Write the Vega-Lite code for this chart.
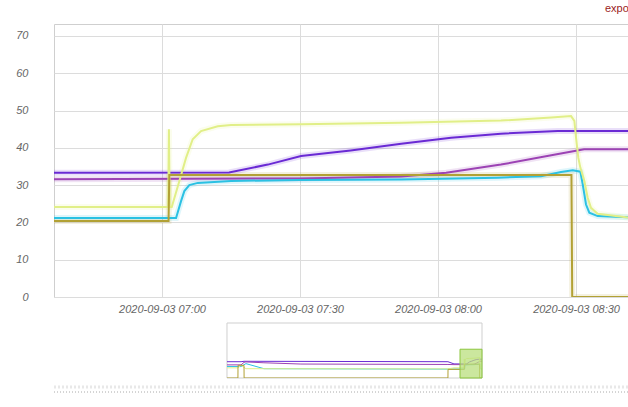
{
  "$schema": "https://vega.github.io/schema/vega-lite/v6.json",
  "background": "white",
  "padding": {"left": 0, "top": 2, "right": 5, "bottom": 0},
  "title": {"text": "export", "anchor": "end", "dx": -6, "color": "#9b1c1c", "font": "Liberation Sans", "fontSize": 11, "fontWeight": "normal", "offset": 10},
  "spacing": 3,
  "datasets": {
    "series": [
      {"series": "s1", "time": "2020-09-02T08:14:00Z", "value": 38.5},
      {"series": "s1", "time": "2020-09-02T09:35:00Z", "value": 38.5},
      {"series": "s1", "time": "2020-09-02T09:52:00Z", "value": 39.5},
      {"series": "s1", "time": "2020-09-03T05:27:00Z", "value": 38.5},
      {"series": "s1", "time": "2020-09-03T06:02:00Z", "value": 33.3},
      {"series": "s1", "time": "2020-09-03T06:36:00Z", "value": 33.3},
      {"series": "s1", "time": "2020-09-03T07:14:34Z", "value": 33.4},
      {"series": "s1", "time": "2020-09-03T07:23:00Z", "value": 35.5},
      {"series": "s1", "time": "2020-09-03T07:30:13Z", "value": 37.8},
      {"series": "s1", "time": "2020-09-03T07:41:00Z", "value": 39.3},
      {"series": "s1", "time": "2020-09-03T07:52:00Z", "value": 41.1},
      {"series": "s1", "time": "2020-09-03T08:02:50Z", "value": 42.7},
      {"series": "s1", "time": "2020-09-03T08:13:40Z", "value": 43.8},
      {"series": "s1", "time": "2020-09-03T08:26:00Z", "value": 44.5},
      {"series": "s1", "time": "2020-09-03T08:45:00Z", "value": 44.5},
      {"series": "s2", "time": "2020-09-02T08:14:00Z", "value": 31},
      {"series": "s2", "time": "2020-09-02T09:35:00Z", "value": 31},
      {"series": "s2", "time": "2020-09-02T09:52:00Z", "value": 37},
      {"series": "s2", "time": "2020-09-02T10:03:00Z", "value": 38},
      {"series": "s2", "time": "2020-09-02T11:47:00Z", "value": 36},
      {"series": "s2", "time": "2020-09-02T15:20:00Z", "value": 33},
      {"series": "s2", "time": "2020-09-03T05:27:00Z", "value": 32},
      {"series": "s2", "time": "2020-09-03T06:02:00Z", "value": 31.6},
      {"series": "s2", "time": "2020-09-03T06:36:00Z", "value": 31.6},
      {"series": "s2", "time": "2020-09-03T07:30:00Z", "value": 31.8},
      {"series": "s2", "time": "2020-09-03T07:52:00Z", "value": 32.3},
      {"series": "s2", "time": "2020-09-03T08:01:45Z", "value": 33.3},
      {"series": "s2", "time": "2020-09-03T08:13:40Z", "value": 35.5},
      {"series": "s2", "time": "2020-09-03T08:24:37Z", "value": 38.0},
      {"series": "s2", "time": "2020-09-03T08:31:45Z", "value": 39.6},
      {"series": "s2", "time": "2020-09-03T08:45:00Z", "value": 39.6},
      {"series": "s3", "time": "2020-09-02T08:14:00Z", "value": 27},
      {"series": "s3", "time": "2020-09-02T09:35:00Z", "value": 27},
      {"series": "s3", "time": "2020-09-02T10:03:00Z", "value": 34},
      {"series": "s3", "time": "2020-09-02T11:47:00Z", "value": 22},
      {"series": "s3", "time": "2020-09-03T05:27:00Z", "value": 21},
      {"series": "s3", "time": "2020-09-03T06:02:00Z", "value": 21.2},
      {"series": "s3", "time": "2020-09-03T06:36:00Z", "value": 21.2},
      {"series": "s3", "time": "2020-09-03T07:03:03Z", "value": 21.2},
      {"series": "s3", "time": "2020-09-03T07:04:08Z", "value": 25.7},
      {"series": "s3", "time": "2020-09-03T07:04:51Z", "value": 28.4},
      {"series": "s3", "time": "2020-09-03T07:05:56Z", "value": 30.0},
      {"series": "s3", "time": "2020-09-03T07:07:46Z", "value": 30.6},
      {"series": "s3", "time": "2020-09-03T07:15:00Z", "value": 31.1},
      {"series": "s3", "time": "2020-09-03T07:30:00Z", "value": 31.4},
      {"series": "s3", "time": "2020-09-03T07:52:00Z", "value": 31.5},
      {"series": "s3", "time": "2020-09-03T08:13:00Z", "value": 32.0},
      {"series": "s3", "time": "2020-09-03T08:22:23Z", "value": 32.4},
      {"series": "s3", "time": "2020-09-03T08:26:44Z", "value": 33.5},
      {"series": "s3", "time": "2020-09-03T08:29:17Z", "value": 34.0},
      {"series": "s3", "time": "2020-09-03T08:30:56Z", "value": 33.6},
      {"series": "s3", "time": "2020-09-03T08:31:27Z", "value": 30.2},
      {"series": "s3", "time": "2020-09-03T08:32:10Z", "value": 24.8},
      {"series": "s3", "time": "2020-09-03T08:32:53Z", "value": 22.6},
      {"series": "s3", "time": "2020-09-03T08:34:42Z", "value": 21.7},
      {"series": "s3", "time": "2020-09-03T08:45:00Z", "value": 21.2},
      {"series": "s4", "time": "2020-09-02T08:14:00Z", "value": 24},
      {"series": "s4", "time": "2020-09-02T09:17:00Z", "value": 24},
      {"series": "s4", "time": "2020-09-02T09:35:00Z", "value": 30},
      {"series": "s4", "time": "2020-09-02T10:03:00Z", "value": 22},
      {"series": "s4", "time": "2020-09-03T05:27:00Z", "value": 21.5},
      {"series": "s4", "time": "2020-09-03T06:02:00Z", "value": 24.1},
      {"series": "s4", "time": "2020-09-03T06:36:00Z", "value": 24.1},
      {"series": "s4", "time": "2020-09-03T07:01:20Z", "value": 24.1},
      {"series": "s4", "time": "2020-09-03T07:01:30Z", "value": 45},
      {"series": "s4", "time": "2020-09-03T07:01:40Z", "value": 24.1},
      {"series": "s4", "time": "2020-09-03T07:02:07Z", "value": 24.1},
      {"series": "s4", "time": "2020-09-03T07:03:46Z", "value": 31.1},
      {"series": "s4", "time": "2020-09-03T07:05:13Z", "value": 37.3},
      {"series": "s4", "time": "2020-09-03T07:06:40Z", "value": 42.3},
      {"series": "s4", "time": "2020-09-03T07:08:29Z", "value": 44.5},
      {"series": "s4", "time": "2020-09-03T07:12:07Z", "value": 45.8},
      {"series": "s4", "time": "2020-09-03T07:15:00Z", "value": 46.1},
      {"series": "s4", "time": "2020-09-03T07:30:13Z", "value": 46.3},
      {"series": "s4", "time": "2020-09-03T07:52:00Z", "value": 46.7},
      {"series": "s4", "time": "2020-09-03T08:13:40Z", "value": 47.3},
      {"series": "s4", "time": "2020-09-03T08:24:37Z", "value": 48.1},
      {"series": "s4", "time": "2020-09-03T08:28:55Z", "value": 48.5},
      {"series": "s4", "time": "2020-09-03T08:29:38Z", "value": 47.2},
      {"series": "s4", "time": "2020-09-03T08:30:00Z", "value": 42.7},
      {"series": "s4", "time": "2020-09-03T08:30:30Z", "value": 37.3},
      {"series": "s4", "time": "2020-09-03T08:30:56Z", "value": 34.7},
      {"series": "s4", "time": "2020-09-03T08:31:48Z", "value": 31.1},
      {"series": "s4", "time": "2020-09-03T08:32:32Z", "value": 26.6},
      {"series": "s4", "time": "2020-09-03T08:33:15Z", "value": 23.9},
      {"series": "s4", "time": "2020-09-03T08:34:42Z", "value": 22.3},
      {"series": "s4", "time": "2020-09-03T08:41:30Z", "value": 21.3},
      {"series": "s4", "time": "2020-09-03T08:45:00Z", "value": 21.2},
      {"series": "s5", "time": "2020-09-02T08:14:00Z", "value": 0},
      {"series": "s5", "time": "2020-09-02T09:17:00Z", "value": 0},
      {"series": "s5", "time": "2020-09-02T09:17:30Z", "value": 30},
      {"series": "s5", "time": "2020-09-02T09:52:00Z", "value": 30},
      {"series": "s5", "time": "2020-09-02T09:52:30Z", "value": 0},
      {"series": "s5", "time": "2020-09-03T05:27:00Z", "value": 0},
      {"series": "s5", "time": "2020-09-03T05:27:30Z", "value": 20.4},
      {"series": "s5", "time": "2020-09-03T06:36:00Z", "value": 20.4},
      {"series": "s5", "time": "2020-09-03T07:01:25Z", "value": 20.4},
      {"series": "s5", "time": "2020-09-03T07:01:35Z", "value": 32.7},
      {"series": "s5", "time": "2020-09-03T08:29:00Z", "value": 32.7},
      {"series": "s5", "time": "2020-09-03T08:29:10Z", "value": 0},
      {"series": "s5", "time": "2020-09-03T08:45:00Z", "value": 0}
    ],
    "navframe": [
      {"start": "2020-09-02T08:14:00Z", "end": "2020-09-03T08:43:15Z", "low": 0, "high": 130}
    ],
    "brush": [
      {"start": "2020-09-03T06:36:31Z", "end": "2020-09-03T08:43:15Z", "low": 0, "high": 68}
    ]
  },
  "vconcat": [
    {
      "width": 583,
      "height": 273,
      "data": {"name": "series"},
      "encoding": {
        "x": {
          "field": "time", "type": "temporal",
          "scale": {"type": "utc", "domain": [1599114991000, 1599122595000]},
          "axis": {"title": null, "labelExpr": "utcFormat(datum.value, '%Y-%m-%d %H:%M')", "values": [1599116400000, 1599118200000, 1599120000000, 1599121800000], "ticks": false, "domain": false, "labelPadding": 6, "labelFlush": false, "minExtent": 21}
        },
        "y": {
          "field": "value", "type": "quantitative",
          "scale": {"domain": [0, 73.2], "nice": false},
          "axis": {"title": null, "values": [0, 10, 20, 30, 40, 50, 60, 70], "ticks": false, "domain": false, "labelPadding": 26, "minExtent": 53}
        },
        "color": {
          "field": "series", "type": "nominal",
          "scale": {"domain": ["s1", "s2", "s3", "s4", "s5"], "range": ["#6a2ad4", "#9c43b4", "#2bc1e3", "#e1ef88", "#b2a135"]},
          "legend": null
        }
      },
      "layer": [
        {"mark": {"type": "line", "clip": true, "strokeWidth": 6, "opacity": 0.15}},
        {"mark": {"type": "line", "clip": true, "strokeWidth": 2}}
      ]
    },
    {
      "width": 428,
      "height": 55,
      "view": {"stroke": null},
      "layer": [
        {
          "data": {"name": "navframe"},
          "mark": {"type": "rect", "fill": null, "stroke": "#cfcfcf", "strokeWidth": 1},
          "encoding": {
            "x": {
              "field": "start", "type": "temporal",
              "scale": {"type": "utc", "domain": [1598974633000, 1599122595000]},
              "axis": null
            },
            "x2": {"field": "end"},
            "y": {"field": "low", "type": "quantitative", "scale": {"domain": [0, 130], "nice": false}, "axis": null},
            "y2": {"field": "high"}
          }
        },
        {
          "data": {"name": "series"},
          "mark": {"type": "line", "strokeWidth": 1, "clip": true},
          "encoding": {
            "x": {"field": "time", "type": "temporal"},
            "y": {"field": "value", "type": "quantitative"},
            "color": {"field": "series", "type": "nominal", "legend": null}
          }
        },
        {
          "data": {"name": "brush"},
          "mark": {"type": "rect", "fill": "#b9df7e", "fillOpacity": 0.75, "stroke": "#8cc63f", "strokeWidth": 1},
          "encoding": {
            "x": {"field": "start", "type": "temporal"},
            "x2": {"field": "end"},
            "y": {"field": "low", "type": "quantitative"},
            "y2": {"field": "high"}
          }
        }
      ]
    },
    {
      "width": 586,
      "height": 10,
      "view": {"stroke": null},
      "data": {"values": [{}]},
      "layer": [
        {
          "mark": {"type": "rule", "stroke": "#e8e8e8", "strokeWidth": 3, "strokeDash": [2, 2]},
          "encoding": {
            "y": {"datum": 1, "type": "quantitative", "scale": {"domain": [0, 2]}, "axis": null}
          }
        },
        {
          "mark": {"type": "rule", "stroke": "#aaaaaa", "strokeWidth": 1, "strokeDash": [1, 2]},
          "encoding": {"y": {"datum": 0, "type": "quantitative"}}
        }
      ]
    }
  ],
  "config": {
    "view": {"stroke": "#cfcfcf"},
    "axis": {"labelFont": "Liberation Sans", "labelFontStyle": "italic", "labelColor": "#666666", "labelFontSize": 11, "gridColor": "#dcdcdc", "gridWidth": 1}
  }
}
